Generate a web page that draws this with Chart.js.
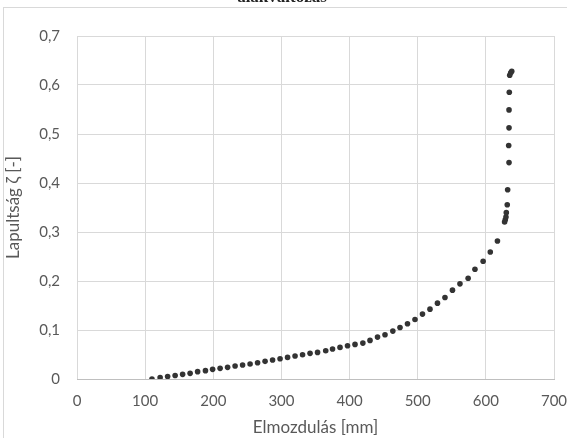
<!DOCTYPE html>
<html lang="hu">
<head>
  <meta charset="UTF-8">
  <title>Lapultság - elmozdulás</title>
  <script src="https://cdn.jsdelivr.net/npm/chart.js"></script>
  <style>
    html, body { margin: 0; padding: 0; background: #fff; }
    #wrap { width: 567px; height: 438px; position: relative; }
  </style>
</head>
<body>
  <div id="wrap"><canvas id="lapChart"></canvas></div>
  <script>
// elmozdulás [mm]
const xValues = [110, 122, 133, 144, 155, 166, 177, 188.5, 199, 210, 221, 232, 243, 254, 265, 276, 287, 298, 309, 320,
  331, 342, 353, 365, 375, 386, 397, 408, 419.5, 430, 441, 452, 463.5, 474, 485, 496, 507, 518, 529, 540,
  551, 562, 574, 584, 596, 606.5, 617, 627.5, 628.5, 629.5, 630, 631.4, 632, 634, 633.5, 634, 634, 634.4,
  635, 636.5, 638];
// lapultság zeta [-]
const yValues = [0, 0.003, 0.005, 0.007, 0.0095, 0.0115, 0.015, 0.017, 0.0197, 0.0217, 0.0238, 0.0265, 0.0285, 0.0305, 0.0333, 0.036, 0.0387, 0.0414, 0.0441, 0.0468,
  0.0496, 0.0523, 0.0543, 0.0577, 0.0611, 0.0645, 0.0679, 0.0706, 0.0733, 0.0788, 0.0855, 0.0903, 0.0978, 0.1052, 0.1127, 0.1215, 0.1324, 0.1426, 0.1548, 0.1663,
  0.1813, 0.1942, 0.2057, 0.224, 0.2403, 0.2593, 0.2817, 0.3204, 0.325, 0.3306, 0.3395, 0.3557, 0.3863, 0.4416, 0.4766, 0.5126, 0.5492, 0.5852,
  0.620, 0.625, 0.628];
const xTitle = 'Elmozdulás [mm]';
const yTitle = 'Lapultság ζ [-]';
const topText = 'alakváltozás';

const points = xValues.map((x, i) => ({ x: x, y: yValues[i] }));

// keret + levágott cím a tetején
const frame = {
  id: 'frame',
  beforeDraw(chart) {
    const c = chart.ctx;
    c.save();
    c.fillStyle = '#fff';
    c.fillRect(0, 0, chart.width, chart.height);
    c.strokeStyle = '#d9d9d9';
    c.lineWidth = 1;
    c.strokeRect(3.5, 7.5, 700, 600);
    c.fillStyle = '#222';
    c.font = 'bold 17px "Liberation Serif"';
    c.textAlign = 'center';
    c.textBaseline = 'alphabetic';
    c.fillText(topText, 282, 2);
    c.restore();
  }
};

const tickFont = { family: 'Lato', size: 15 };
const titleFont = { family: 'Lato', size: 17 };

new Chart(document.getElementById('lapChart'), {
  type: 'scatter',
  data: {
    datasets: [{
      data: points,
      backgroundColor: '#333333',
      borderColor: '#333333',
      pointRadius: 2.8,
      pointHoverRadius: 2.8,
      borderWidth: 0
    }]
  },
  options: {
    responsive: true,
    maintainAspectRatio: false,
    animation: false,
    layout: { padding: { left: 0, top: 36, right: 13, bottom: 0 } },
    plugins: { legend: { display: false }, tooltip: { enabled: false } },
    scales: {
      x: {
        type: 'linear',
        min: 0, max: 700,
        ticks: { stepSize: 100, color: '#595959', font: tickFont, padding: 13, maxRotation: 0 },
        grid: { color: '#d9d9d9', drawTicks: false },
        border: { color: '#bfbfbf' },
        title: { display: true, text: xTitle, color: '#595959', font: titleFont, padding: { top: 0, bottom: 0 } },
        afterFit(scale) { scale.height = 59; scale.paddingLeft = 0; scale.paddingRight = 0; }
      },
      y: {
        min: 0, max: 0.7,
        ticks: {
          stepSize: 0.1, color: '#595959', font: tickFont, padding: 17,
          callback: v => v === 0 ? '0' : v.toFixed(1).replace('.', ',')
        },
        grid: { color: '#d9d9d9', drawTicks: false },
        border: { display: false },
        title: { display: true, text: yTitle, color: '#595959', font: titleFont, padding: { top: 3, bottom: 0 } },
        afterFit(scale) { scale.width = 77; scale.paddingTop = 0; scale.paddingBottom = 0; }
      }
    }
  },
  plugins: [frame]
});
  </script>
</body>
</html>
